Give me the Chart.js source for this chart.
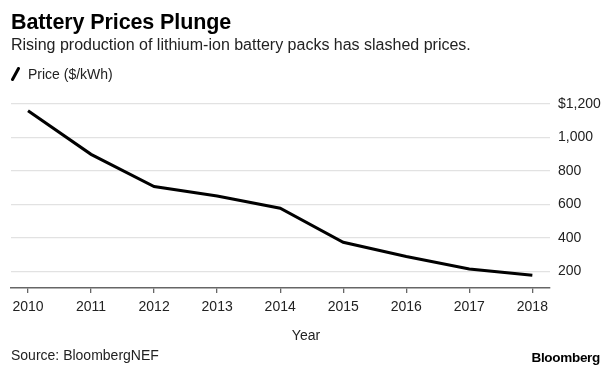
<!DOCTYPE html>
<html>
<head>
<meta charset="utf-8">
<script src="https://cdn.jsdelivr.net/npm/chart.js@4"></script>
<style>
  html, body { margin: 0; padding: 0; background: #fff; }
  #wrap { position: relative; width: 612px; height: 374px; overflow: hidden;
          font-family: 'Liberation Sans', Arial, sans-serif; color: #1a1a1a; }
  #chart { position: absolute; left: 0; top: 0; }
  .txt { position: absolute; white-space: nowrap; }
  #title { left: 11px; top: 10px; font-size: 21.5px; font-weight: bold; color: #000; letter-spacing: -0.1px; }
  #subtitle { left: 11px; top: 36px; font-size: 16px; color: #222; }
  #legend { left: 11px; top: 66px; font-size: 14px; color: #222; }
  #legend svg { vertical-align: -2px; margin-right: 8px; }
  #xtitle { left: 0; width: 612px; text-align: center; top: 327px; font-size: 14px; color: #222; }
  #source { left: 11px; top: 347px; font-size: 14px; color: #222; }
  #brand { right: 12px; top: 350px; font-size: 13.5px; font-weight: bold; color: #000; letter-spacing: -0.3px; }
</style>
</head>
<body>
<div id="wrap">
  <canvas id="chart" width="612" height="374"></canvas>
  <div class="txt" id="title">Battery Prices Plunge</div>
  <div class="txt" id="subtitle">Rising production of lithium-ion battery packs has slashed prices.</div>
  <div class="txt" id="legend"><svg width="9" height="14" viewBox="0 0 9 14"><line x1="1.5" y1="12.5" x2="7.5" y2="1.5" stroke="#000" stroke-width="3" stroke-linecap="round"/></svg>Price ($/kWh)</div>
  <div class="txt" id="xtitle">Year</div>
  <div class="txt" id="source">Source: BloombergNEF</div>
  <div class="txt" id="brand">Bloomberg</div>
</div>
<script>
// 資料
const years = [2010, 2011, 2012, 2013, 2014, 2015, 2016, 2017, 2018];
const prices = [1160, 899, 707, 650, 577, 373, 288, 214, 176];
const yTicks = [200, 400, 600, 800, 1000, 1200];

Chart.defaults.font.family = "'Liberation Sans', Arial, sans-serif";
Chart.defaults.font.size = 14;
Chart.defaults.color = '#222';

new Chart(document.getElementById('chart'), {
  type: 'line',
  data: {
    datasets: [{
      label: 'Price ($/kWh)',
      data: years.map((yr, i) => ({ x: yr, y: prices[i] })),
      borderColor: '#000',
      borderWidth: 3,
      pointRadius: 0,
      tension: 0,
      fill: false
    }]
  },
  options: {
    responsive: false,
    animation: false,
    layout: { padding: { top: 104, left: 11, right: 0, bottom: 0 } },
    plugins: {
      legend: { display: false },
      tooltip: { enabled: false }
    },
    scales: {
      x: {
        type: 'linear',
        min: 2009.73,
        max: 2018.28,
        afterBuildTicks: scale => { scale.ticks = years.map(v => ({ value: v })); },
        afterFit: scale => { scale.height = 86; },
        ticks: {
          padding: 6,
          maxRotation: 0,
          autoSkip: false,
          callback: v => String(v)
        },
        grid: {
          drawOnChartArea: false,
          drawTicks: true,
          tickLength: 5,
          color: '#666',
          lineWidth: 1.3
        },
        border: { display: true, color: '#666', width: 1.5 }
      },
      y: {
        position: 'right',
        min: 100,
        max: 1200,
        afterBuildTicks: scale => { scale.ticks = yTicks.map(v => ({ value: v })); },
        afterFit: scale => { scale.width = 62; },
        ticks: {
          padding: 8,
          callback: v => (v === 1200 ? '$' : '') + v.toLocaleString('en-US')
        },
        grid: {
          drawTicks: false,
          color: '#e2e2e2',
          lineWidth: 1.3
        },
        border: { display: false }
      }
    }
  }
});
</script>
</body>
</html>
